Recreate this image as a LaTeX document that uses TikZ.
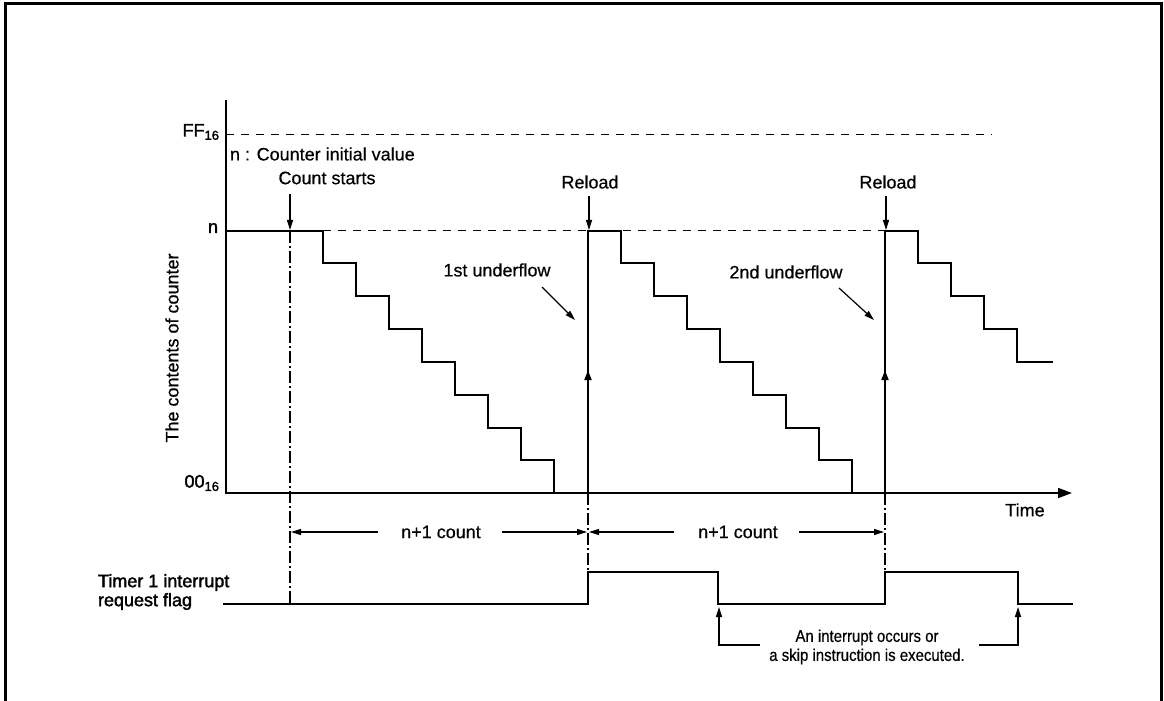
\documentclass[tikz,border=0pt]{standalone}
\usepackage{fontspec}
\setmainfont[FakeBold=0.5]{Liberation Sans}
\newfontfamily\heavyfont[FakeBold=2]{Liberation Sans}
\newfontfamily\narrowfont[FakeStretch=0.88,FakeBold=0.5]{Liberation Sans}
\usetikzlibrary{arrows.meta}
\newcommand{\sub}[1]{\raisebox{-0.35ex}{\fontsize{6.5}{7}\selectfont #1}}
\begin{document}
\begin{tikzpicture}[x=0.5pt,y=-0.5pt,
  font=\fontsize{9}{10}\selectfont,
  every node/.style={inner sep=0pt, outer sep=0pt},
  frameline/.style={line width=1.5pt},
  axisline/.style={line width=0.8pt},
  wave/.style={line width=1.1pt, line join=miter},
  dashline/.style={line width=0.5pt, dash pattern=on 4pt off 3.5pt},
  dotdash/.style={line width=0.6pt, dash pattern=on 6pt off 1.5pt on 1pt off 1.5pt},
  pointer/.style={line width=0.6pt, -{Triangle[length=5pt,width=3pt]}},
  upper/.style={line width=1.1pt, -{Triangle[length=5pt,width=3.4pt]}},
  heavylabel/.style={font=\fontsize{9}{9.5}\selectfont\heavyfont},
  notelabel/.style={font=\fontsize{8.5}{9.5}\selectfont\narrowfont, align=center}
]
\useasboundingbox (0,0) rectangle (1164,701);

% frame
\draw[frameline] (5,701) -- (5,4) -- (1161,4) -- (1161,701);

% axes
\coordinate (ytop) at (226,100);
\coordinate (org) at (226,493);
\coordinate (tend) at (1072,493);
\draw[axisline, -{Triangle[length=7pt,width=5pt]}] (ytop) -- (org) -- (tend);

% reference levels
\coordinate (ffL) at (226,135);
\coordinate (ffR) at (992,135);
\draw[dashline] (ffL) -- (ffR);
\coordinate (nL) at (323,231);
\coordinate (nR) at (885,231);
\draw[dashline] (nL) -- (nR);

% labels on the y axis
\node[heavylabel, anchor=east] (ff) at (219,132) {FF\sub{16}};
\node[heavylabel, anchor=east] (nlab) at (218,228) {n};
\node[heavylabel, anchor=east] (zero) at (219,483) {00\sub{16}};
\node[rotate=90] (ylab) at (172,348) {The contents of counter};
\node (time) at (1025,510) {Time};
\node[anchor=west] (init) at (230,154) {n : Counter initial value};

% counter staircase
\draw[wave] (226,231) -- (323,231) |- (356,263) |- (389,296) |- (422,329) |- (455,362)
  |- (488,395) |- (521,428) |- (554,460) |- (588,493) -- (588,231) -- (621,231)
  |- (654,263) |- (687,296) |- (720,329) |- (753,362) |- (786,395) |- (819,428)
  |- (852,460) |- (885,493) -- (885,231) -- (918,231) |- (951,263) |- (984,296)
  |- (1017,329) |- (1053,362);
\coordinate (r1b) at (588,493);
\coordinate (r1m) at (588,370);
\coordinate (r2b) at (885,493);
\coordinate (r2m) at (885,370);
\draw[upper] (r1b) -- (r1m);
\draw[upper] (r2b) -- (r2m);

% event labels
\node (cs) at (327,178) {Count starts};
\coordinate (csT) at (290,194);
\coordinate (csB) at (290,230);
\draw[pointer] (csT) -- (csB);
\node (rl1) at (590,182) {Reload};
\coordinate (rl1T) at (589,196);
\coordinate (rl1B) at (589,230);
\draw[pointer] (rl1T) -- (rl1B);
\node (rl2) at (888,182) {Reload};
\coordinate (rl2T) at (886,196);
\coordinate (rl2B) at (886,230);
\draw[pointer] (rl2T) -- (rl2B);
\node (uf1) at (497,270) {1st underflow};
\coordinate (uf1a) at (542,287);
\coordinate (uf1b) at (575,320);
\draw[pointer] (uf1a) -- (uf1b);
\node (uf2) at (786,272) {2nd underflow};
\coordinate (uf2a) at (839,288);
\coordinate (uf2b) at (874,320);
\draw[pointer] (uf2a) -- (uf2b);

% dash-dot markers
\coordinate (d1t) at (290,231);
\coordinate (d1b) at (290,604);
\coordinate (d2t) at (588,493);
\coordinate (d2b) at (588,572);
\coordinate (d3t) at (885,493);
\coordinate (d3b) at (885,572);
\draw[dotdash] (d1t) -- (d1b);
\draw[dotdash] (d2t) -- (d2b);
\draw[dotdash] (d3t) -- (d3b);

% n+1 count spans
\node (c1) at (441,532) {n+1 count};
\coordinate (c1a) at (378,532);
\coordinate (c1b) at (502,532);
\coordinate (c1L) at (291,532);
\coordinate (c1R) at (587,532);
\draw[pointer] (c1a) -- (c1L);
\draw[pointer] (c1b) -- (c1R);
\node (c2) at (738,532) {n+1 count};
\coordinate (c2a) at (674,532);
\coordinate (c2b) at (799,532);
\coordinate (c2L) at (589,532);
\coordinate (c2R) at (884,532);
\draw[pointer] (c2a) -- (c2L);
\draw[pointer] (c2b) -- (c2R);

% interrupt request flag
\node[heavylabel, align=left, anchor=west] (flag) at (98,592) {Timer 1 interrupt\\request flag};
\draw[wave] (223,604) -- (588,604) -- (588,572) -- (718,572) -- (718,604) -- (885,604)
  -- (885,572) -- (1018,572) -- (1018,604) -- (1073,604);

% interrupt note
\node[notelabel] (note) at (867,647) {An interrupt occurs or\\a skip instruction is executed.};
\coordinate (i1s) at (760,645);
\coordinate (i1t) at (719,607);
\coordinate (i2s) at (979,645);
\coordinate (i2t) at (1018,607);
\draw[pointer] (i1s) -| (i1t);
\draw[pointer] (i2s) -| (i2t);
\end{tikzpicture}
\end{document}
